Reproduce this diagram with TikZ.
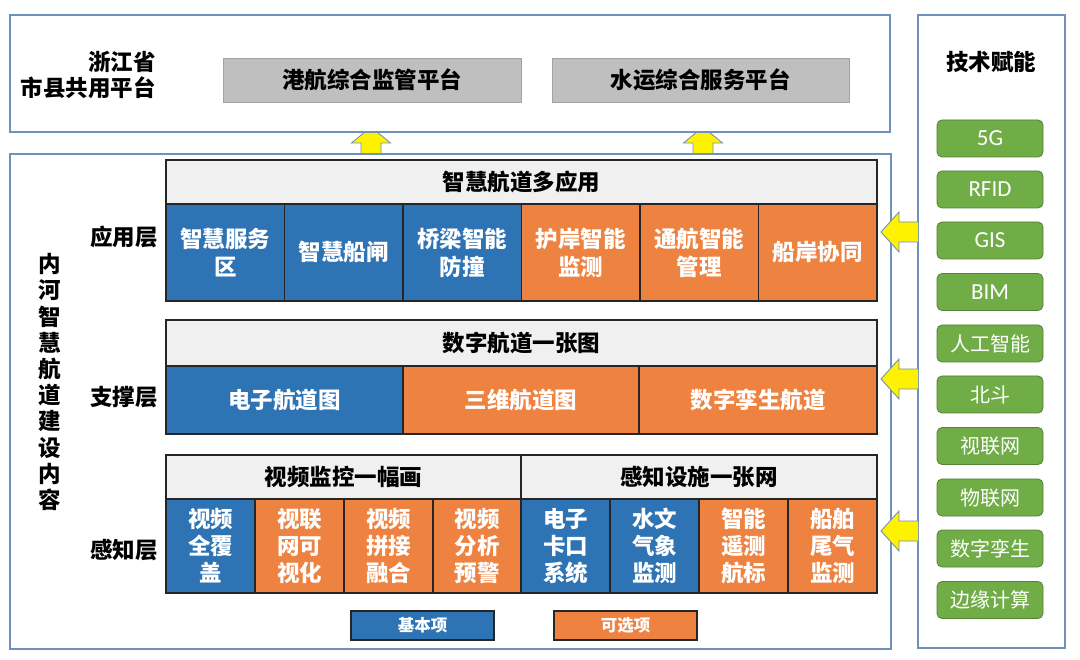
\documentclass[tikz,border=0pt]{standalone}
\usepackage{fontspec}
\newfontfamily\cjk{Noto Sans CJK SC}
\newfontfamily\lat{Carlito}
\definecolor{frameblue}{HTML}{6F91BA}
\definecolor{cellblue}{HTML}{2E74B5}
\definecolor{cellorange}{HTML}{EE8240}
\definecolor{headgray}{HTML}{F0F0F0}
\definecolor{platgray}{HTML}{BFBFBF}
\definecolor{btngreen}{HTML}{70AD47}
\definecolor{btnedge}{HTML}{548235}
\newcommand\mybox[7]{\node[#6, minimum width={(#4)-(#2)}, minimum height={(#5)-(#3)}] (#1) at ({((#2)+(#4))/2},{((#3)+(#5))/2}) {#7};}
\tikzset{
  frame/.style={draw=frameblue, line width=1.2pt, fill=white},
  cellbase/.style={draw=black!85, line width=1.2pt, inner sep=0pt, outer sep=0pt, align=center,
     text=white, font=\cjk\bfseries\fontsize{22.5}{28}\selectfont},
  blue/.style={cellbase, fill=cellblue},
  orange/.style={cellbase, fill=cellorange},
  head/.style={cellbase, fill=headgray, text=black},
  tight/.style={font=\cjk\bfseries\fontsize{22.5}{27}\selectfont},
  plat/.style={fill=platgray, draw=platgray!85!black, line width=0.4pt, inner sep=0pt,
     font=\cjk\bfseries\fontsize{22.5}{26}\selectfont},
  label/.style={font=\cjk\bfseries\fontsize{22.5}{26}\selectfont, inner sep=0pt, align=center},
  btn/.style={rounded corners=5pt, fill=btngreen, draw=btnedge, line width=0.8pt, text=white,
     minimum width=106pt, minimum height=37pt, inner sep=0pt},
  btnlat/.style={btn, font=\lat\fontsize{23}{26}\selectfont},
  btncjk/.style={btn, font=\cjk\fontsize{20}{24}\selectfont},
  legend/.style={draw=black!85, line width=1.2pt, inner sep=0pt, text=white,
     font=\cjk\bfseries\fontsize{16.5}{20}\selectfont, minimum width=143pt, minimum height=29pt},
  yarrow/.style={fill=yellow, draw=frameblue, line width=0.9pt, line join=miter}
}
\begin{document}
\begin{tikzpicture}[x=1pt,y=-1pt]
\useasboundingbox (0,0) rectangle (1080,660);
% up arrows (drawn first, frames overlap)
\foreach \cx in {371,703}{
  \draw[yarrow] (\cx-10,155) -- (\cx-10,143) -- (\cx-19.5,143) -- (\cx,127) -- (\cx+19.5,143) -- (\cx+10,143) -- (\cx+10,155);
}
% frames
\draw[frame] (10,15) rectangle (890,132);
\draw[frame] (10,154) rectangle (891,649);
\draw[frame] (918,15) rectangle (1065,648);
% left arrows
\foreach \cy in {232,379,531}{
  \draw[yarrow] (918,\cy-10) -- (899,\cy-10) -- (899,\cy-20) -- (881,\cy) -- (899,\cy+20) -- (899,\cy+10) -- (918,\cy+10);
}
% top area
\node[label, align=right, anchor=east] (prov) at (156,75) {浙江省\\市县共用平台};
\mybox{p1}{223}{58}{521}{102}{plat}{港航综合监管平台}
\mybox{p2}{552}{58}{849}{102}{plat}{水运综合服务平台}
% left labels
\node[label, font=\cjk\bfseries\fontsize{22.5}{26.2}\selectfont] (side) at (50,382) {内\\河\\智\\慧\\航\\道\\建\\设\\内\\容};
\node[label] (l1) at (124,237) {应用层};
\node[label] (l2) at (124,397) {支撑层};
\node[label] (l3) at (124,550) {感知层};
% application layer
\mybox{h1}{166}{160}{877}{204}{head}{智慧航道多应用}
\mybox{a1}{166}{204}{284.5}{301}{blue}{智慧服务\\区}
\mybox{a2}{284.5}{204}{403}{301}{blue}{智慧船闸}
\mybox{a3}{403}{204}{521.5}{301}{blue}{桥梁智能\\防撞}
\mybox{a4}{521.5}{204}{640}{301}{orange}{护岸智能\\监测}
\mybox{a5}{640}{204}{758.5}{301}{orange}{通航智能\\管理}
\mybox{a6}{758.5}{204}{877}{301}{orange}{船岸协同}
% support layer
\mybox{h2}{166}{320}{877}{366}{head}{数字航道一张图}
\mybox{s1}{166}{366}{403}{434}{blue}{电子航道图}
\mybox{s2}{403}{366}{639}{434}{orange}{三维航道图}
\mybox{s3}{639}{366}{877}{434}{orange}{数字孪生航道}
% perception layer
\mybox{h3}{166}{455}{521}{499}{head}{视频监控一幅画}
\mybox{h4}{521}{455}{877}{499}{head}{感知设施一张网}
\mybox{g1}{166}{499}{255}{593}{blue,tight}{视频\\全覆\\盖}
\mybox{g2}{255}{499}{344}{593}{orange,tight}{视联\\网可\\视化}
\mybox{g3}{344}{499}{433}{593}{orange,tight}{视频\\拼接\\融合}
\mybox{g4}{433}{499}{521}{593}{orange,tight}{视频\\分析\\预警}
\mybox{g5}{521}{499}{610}{593}{blue,tight}{电子\\卡口\\系统}
\mybox{g6}{610}{499}{699}{593}{blue,tight}{水文\\气象\\监测}
\mybox{g7}{699}{499}{788}{593}{orange,tight}{智能\\遥测\\航标}
\mybox{g8}{788}{499}{877}{593}{orange,tight}{船舶\\尾气\\监测}
% legend
\node[legend, fill=cellblue] (lg1) at (422.5,625.5) {基本项};
\node[legend, fill=cellorange] (lg2) at (625.5,625.5) {可选项};
% tech column
\node[label] (tech) at (991,62) {技术赋能};
\node[btnlat] (t1) at (990,138.5) {5G};
\node[btnlat] (t2) at (990,189.5) {RFID};
\node[btnlat] (t3) at (990,240.5) {GIS};
\node[btnlat] (t4) at (990,292) {BIM};
\node[btncjk] (t5) at (990,343.5) {人工智能};
\node[btncjk] (t6) at (990,394.5) {北斗};
\node[btncjk] (t7) at (990,446) {视联网};
\node[btncjk] (t8) at (990,497.5) {物联网};
\node[btncjk] (t9) at (990,548.5) {数字孪生};
\node[btncjk] (t10) at (990,600) {边缘计算};
\end{tikzpicture}
\end{document}
